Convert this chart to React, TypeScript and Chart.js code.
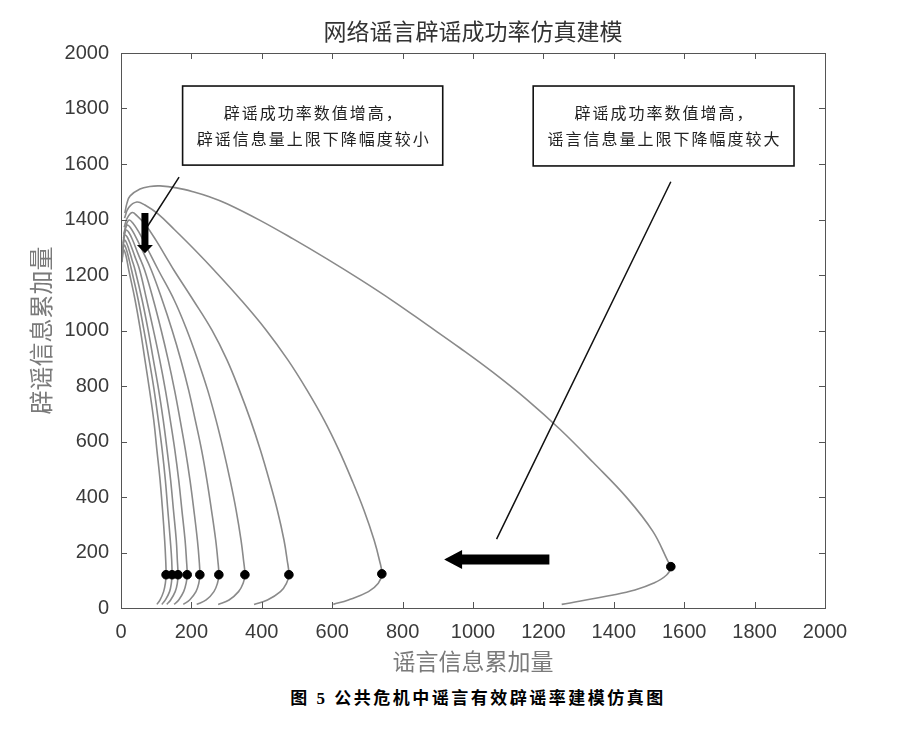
import React, { useEffect, useRef } from "react";
import { Chart, registerables } from "chart.js";

Chart.register(...registerables);

// ---- data ----
const xTicks = [0, 200, 400, 600, 800, 1000, 1200, 1400, 1600, 1800, 2000];
const yTicks = [0, 200, 400, 600, 800, 1000, 1200, 1400, 1600, 1800, 2000];

const curve1: number[][] = [[3,1246],[5,1276],[8,1290],[11,1283],[15,1265],[22,1218],[40,1110],[55,1002],[68,894],[81,786],[93,677],[102,569],[111,461],[118,353],[124,245],[127,173],[128,120],[126,89],[121,59],[111,29],[102,13]];
const curve2: number[][] = [[4,1264],[6,1294],[9,1308],[13,1300],[18,1280],[24,1250],[30,1218],[49,1110],[65,1002],[80,894],[94,786],[106,677],[117,569],[126,461],[133,353],[140,245],[144,173],[145,120],[143,89],[138,59],[126,29],[116,13]];
const curve3: number[][] = [[4,1280],[7,1312],[10,1326],[15,1318],[22,1294],[31,1256],[40,1218],[60,1110],[77,1002],[92,894],[107,786],[120,677],[131,569],[141,461],[149,353],[157,245],[160,173],[162,120],[160,89],[154,59],[141,29],[130,13]];
const curve4: number[][] = [[5,1297],[8,1330],[12,1344],[18,1336],[27,1310],[39,1268],[53,1218],[73,1110],[92,1002],[110,894],[126,786],[140,677],[153,569],[164,461],[173,353],[182,245],[186,173],[188,120],[185,89],[178,59],[164,29],[151,13]];
const curve5: number[][] = [[6,1314],[10,1347],[15,1362],[22,1354],[33,1326],[48,1278],[67,1218],[92,1110],[114,1002],[134,894],[152,786],[168,677],[183,569],[196,461],[207,353],[217,245],[222,173],[224,120],[221,89],[213,59],[195,29],[177,13]];
const curve6: number[][] = [[7,1332],[12,1364],[18,1380],[26,1372],[40,1342],[60,1290],[86,1218],[117,1110],[145,1002],[170,894],[192,786],[211,677],[229,569],[244,461],[257,353],[269,245],[275,173],[278,120],[274,89],[264,59],[242,29],[215,13]];
const curve7: number[][] = [[8,1348],[15,1382],[23,1398],[33,1388],[50,1356],[73,1300],[106,1218],[151,1110],[187,1002],[218,894],[246,786],[270,677],[291,569],[310,461],[327,353],[341,245],[348,173],[352,120],[347,89],[334,59],[307,29],[276,13]];
const curve8: number[][] = [[9,1372],[18,1406],[32,1425],[45,1414],[69,1382],[100,1324],[134,1252],[150,1218],[205,1110],[258,1002],[301,894],[336,786],[368,677],[396,569],[421,461],[444,353],[463,245],[472,173],[477,120],[470,89],[453,59],[416,29],[378,13]];
const curve9: number[][] = [[10,1405],[22,1443],[45,1463],[68,1452],[105,1420],[153,1362],[210,1290],[264,1218],[341,1110],[412,1002],[474,894],[528,786],[577,677],[619,569],[656,461],[690,353],[719,245],[734,173],[741,123],[731,89],[703,59],[646,29],[603,13]];
const curve10: number[][] = [[11,1423],[17,1459],[26,1485],[54,1510],[82,1519],[111,1521],[158,1514],[205,1500],[253,1481],[301,1457],[395,1397],[489,1330],[585,1258],[679,1184],[773,1106],[869,1021],[963,937],[1057,849],[1153,751],[1247,644],[1341,525],[1438,396],[1511,276],[1554,168],[1562,149],[1550,119],[1512,89],[1460,65],[1398,47],[1252,13]];

const curves = [curve1, curve2, curve3, curve4, curve5, curve6, curve7, curve8, curve9, curve10];

const dotX = [128, 145, 162, 188, 224, 278, 352, 477, 741, 1562];
const dotY = [120, 120, 120, 120, 120, 120, 120, 120, 123, 149];

const titleText = "网络谣言辟谣成功率仿真建模";
const xTitle = "谣言信息累加量";
const yTitle = "辟谣信息累加量";
const noteLeft = ["辟谣成功率数值增高，", "辟谣信息量上限下降幅度较小"];
const noteRight = ["辟谣成功率数值增高，", "谣言信息量上限下降幅度较大"];
const caption = "图 5 公共危机中谣言有效辟谣率建模仿真图";

const CJK = "'Noto Sans CJK SC', sans-serif";

const annotationPlugin = {
  id: "annotations",
  afterDatasetsDraw(chart: any) {
    const { ctx, chartArea: a, scales } = chart;
    const X = (v: number) => scales.x.getPixelForValue(v);
    const Y = (v: number) => scales.y.getPixelForValue(v);
    ctx.save();

    // frame
    ctx.strokeStyle = "#555";
    ctx.lineWidth = 1;
    ctx.strokeRect(Math.round(a.left) + 0.5, Math.round(a.top) + 0.5, Math.round(a.right - a.left), Math.round(a.bottom - a.top));

    // inside ticks on all four sides
    ctx.beginPath();
    const tl = 6;
    xTicks.forEach((v) => {
      const p = Math.round(X(v)) + 0.5;
      ctx.moveTo(p, a.bottom); ctx.lineTo(p, a.bottom - tl);
      ctx.moveTo(p, a.top); ctx.lineTo(p, a.top + tl);
    });
    yTicks.forEach((v) => {
      const p = Math.round(Y(v)) + 0.5;
      ctx.moveTo(a.left, p); ctx.lineTo(a.left + tl, p);
      ctx.moveTo(a.right, p); ctx.lineTo(a.right - tl, p);
    });
    ctx.stroke();

    // note boxes
    const drawBox = (x0: number, x1: number, y0: number, y1: number, lines: string[], ly: number[]) => {
      const l = X(x0), r = X(x1), t = Y(y0), b = Y(y1);
      ctx.fillStyle = "#fff";
      ctx.fillRect(l, t, r - l, b - t);
      ctx.strokeStyle = "#111";
      ctx.lineWidth = 1.6;
      ctx.strokeRect(l, t, r - l, b - t);
      ctx.fillStyle = "#222";
      ctx.font = `16px ${CJK}`;
      (ctx as any).letterSpacing = "2px";
      ctx.textAlign = "center";
      ctx.textBaseline = "middle";
      lines.forEach((s, i) => ctx.fillText(s, (l + r) / 2 + 1, Y(ly[i])));
      (ctx as any).letterSpacing = "0px";
    };
    drawBox(175, 914, 1881, 1596, noteLeft, [1784, 1690]);
    drawBox(1171, 1912, 1881, 1593, noteRight, [1784, 1690]);

    // pointer lines
    ctx.strokeStyle = "#111";
    ctx.lineWidth = 1.5;
    ctx.beginPath();
    ctx.moveTo(X(165), Y(1553)); ctx.lineTo(X(74), Y(1373));
    ctx.moveTo(X(1562), Y(1536)); ctx.lineTo(X(1067), Y(248));
    ctx.stroke();

    // down arrow
    ctx.fillStyle = "#000";
    {
      const cx = X(68), t = Y(1423), hb = Y(1308), tip = Y(1278);
      ctx.beginPath();
      ctx.moveTo(cx - 3.5, t); ctx.lineTo(cx + 3.5, t); ctx.lineTo(cx + 3.5, hb);
      ctx.lineTo(cx + 8, hb); ctx.lineTo(cx, tip); ctx.lineTo(cx - 8, hb);
      ctx.lineTo(cx - 3.5, hb); ctx.closePath(); ctx.fill();
    }
    // left arrow
    {
      const cy = Y(175), tip = X(918), hb = X(969), end = X(1217);
      ctx.beginPath();
      ctx.moveTo(end, cy - 5); ctx.lineTo(end, cy + 5); ctx.lineTo(hb, cy + 5);
      ctx.lineTo(hb, cy + 9.5); ctx.lineTo(tip, cy); ctx.lineTo(hb, cy - 9.5);
      ctx.lineTo(hb, cy - 5); ctx.closePath(); ctx.fill();
    }
    ctx.restore();
  },
};

export default function App() {
  const ref = useRef<HTMLCanvasElement>(null);

  useEffect(() => {
    if (!ref.current) return;
    const datasets: any[] = curves.map((c, i) => ({
      label: `curve${i + 1}`,
      data: c.map(([x, y]) => ({ x, y })),
      showLine: true,
      borderColor: "#8a8a8a",
      borderWidth: 1.6,
      pointRadius: 0,
      tension: 0.4,
      fill: false,
      order: 2,
    }));
    datasets.push({
      label: "dots",
      data: dotX.map((x, i) => ({ x, y: dotY[i] })),
      showLine: false,
      pointRadius: 4.3,
      pointBackgroundColor: "#000",
      pointBorderColor: "#000",
      order: 0,
    });

    const tickFont = { family: "'Liberation Sans', Arial, sans-serif", size: 20 };
    const chart = new Chart(ref.current, {
      type: "scatter",
      data: { datasets },
      plugins: [annotationPlugin],
      options: {
        animation: false,
        responsive: false,
        events: [],
        layout: { padding: { left: 0, right: 88, top: 0, bottom: 0 } },
        plugins: {
          legend: { display: false },
          tooltip: { enabled: false },
          title: {
            display: true,
            text: titleText,
            fullSize: false,
            color: "#333",
            font: { family: CJK, size: 23, weight: "normal" },
            padding: { top: 17, bottom: 8.4 },
          },
        },
        scales: {
          x: {
            type: "linear",
            min: 0,
            max: 2000,
            ticks: { stepSize: 200, color: "#3a3a3a", font: tickFont, padding: 12, maxRotation: 0, autoSkip: false, callback: (v: any) => String(v) },
            grid: { display: false, drawTicks: false },
            border: { display: false },
            title: { display: true, text: xTitle, color: "#7a7a7a", font: { family: CJK, size: 23 }, padding: 5 },
            afterFit: (s: any) => { s.height = 72; },
          },
          y: {
            type: "linear",
            min: 0,
            max: 2000,
            ticks: { stepSize: 200, color: "#3a3a3a", font: tickFont, padding: 12, autoSkip: false, callback: (v: any) => String(v) },
            grid: { display: false, drawTicks: false },
            border: { display: false },
            title: { display: true, text: yTitle, color: "#7a7a7a", font: { family: CJK, size: 24 }, padding: 26 },
            afterFit: (s: any) => { s.width = 121; },
          },
        },
      } as any,
    });
    return () => chart.destroy();
  }, []);

  return (
    <div style={{ position: "fixed", left: 0, top: 0, width: 913, height: 731, background: "#fff" }}>
      <canvas ref={ref} width={913} height={680} style={{ display: "block" }} />
      <div
        style={{
          position: "absolute",
          left: 43,
          width: 870,
          top: 684,
          textAlign: "center",
          font: "bold 17px 'Liberation Serif', 'Noto Sans CJK SC', serif",
          letterSpacing: "2.5px",
          color: "#000",
        }}
      >
        {caption}
      </div>
    </div>
  );
}
